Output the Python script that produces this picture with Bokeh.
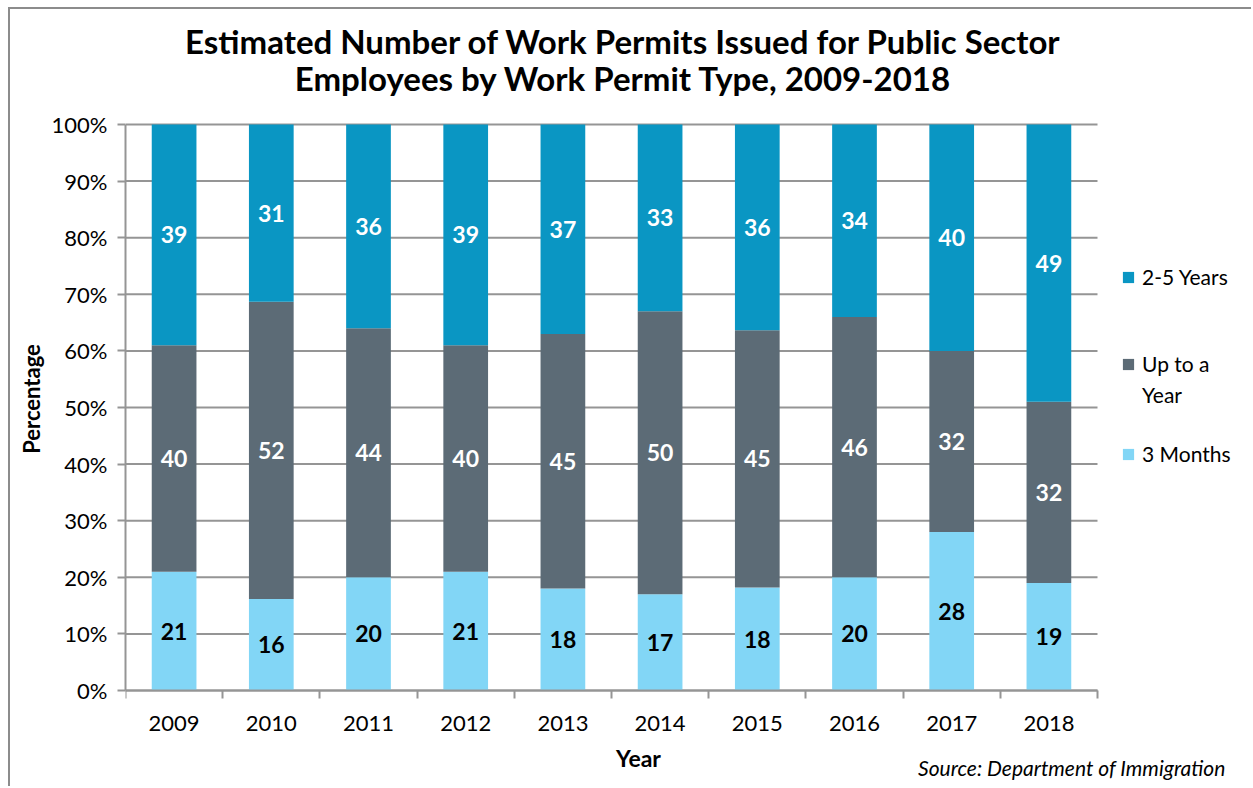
import numpy as np
from bokeh.plotting import figure
from bokeh.models import (Range1d, FixedTicker, PrintfTickFormatter, Label,
                          Legend, LegendItem, ColumnDataSource)
from bokeh.core.properties import value
from bokeh.embed import file_html
from bokeh.resources import INLINE

years = ["2009", "2010", "2011", "2012", "2013", "2014", "2015", "2016", "2017", "2018"]
three_months = [21, 16, 20, 21, 18, 17, 18, 20, 28, 19]
up_to_year = [40, 52, 44, 40, 45, 50, 45, 46, 32, 32]
two_five_years = [39, 31, 36, 39, 37, 33, 36, 34, 40, 49]
series_names = ["3 Months", "Up to a Year", "2-5 Years"]
y_ticks = [0, 10, 20, 30, 40, 50, 60, 70, 80, 90, 100]
title_lines = ["Estimated Number of Work Permits Issued for Public Sector",
               "Employees by Work Permit Type, 2009-2018"]
colors = ["#82D6F6", "#5C6B76", "#0A96C3"]
label_colors = ["#000000", "#FFFFFF", "#FFFFFF"]

FONT = "Lato"
GRID = "#959595"

# ---- layout geometry (pixels) ----
W, H = 1243, 779            # canvas size
TOP_OFF = 9                 # css margin + border above the canvas
LEFT = 115                  # left border (y axis panel)
AX_W = 972                  # width of the category area
AX_H = 566                  # height of 0..100 %
BOTTOM_GAP = 98             # from 0 % line to canvas bottom
n = len(years)
frame_w = W - LEFT
x_end = n * frame_w / AX_W
y_start = -100 * BOTTOM_GAP / AX_H
y_end = 100 * (H - BOTTOM_GAP) / AX_H


def sy(page_y):
    """page pixel row -> screen offset from the frame bottom"""
    return H + TOP_OFF - page_y


raw = np.array([three_months, up_to_year, two_five_years], dtype=float)
shares = raw / raw.sum(axis=0) * 100.0
xs = np.arange(n) + 0.5

p = figure(width=W, height=H, output_backend="svg", toolbar_location=None,
           x_range=Range1d(0, x_end), y_range=Range1d(y_start, y_end),
           min_border_left=LEFT, min_border_right=0, min_border_top=0,
           min_border_bottom=0)
p.outline_line_color = None
p.styles = {"margin-left": "8px", "margin-top": "7px",
            "border-left": "2px solid #8c8c8c", "border-top": "2px solid #8c8c8c"}

# gridlines (only across the category area)
p.xgrid.visible = False
p.ygrid.visible = False
p.segment(x0=[0] * len(y_ticks), x1=[n] * len(y_ticks), y0=y_ticks, y1=y_ticks,
          line_color=GRID, line_width=2, level="underlay")

src = ColumnDataSource(dict(x=xs, s0=shares[0], s1=shares[1], s2=shares[2]))
renderers = p.vbar_stack(["s0", "s1", "s2"], x="x", width=0.46, source=src,
                         color=colors, line_color=None)
blank = p.vbar(x=[], top=[], width=0.1, fill_alpha=0, line_alpha=0)

# segment labels
bottoms = np.vstack([np.zeros(n), np.cumsum(shares, axis=0)[:-1]])
lx, ly, lt, lc = [], [], [], []
for k in range(3):
    for i in range(n):
        lx.append(xs[i])
        ly.append(bottoms[k][i] + shares[k][i] / 2)
        lt.append(str(int(raw[k][i])))
        lc.append(label_colors[k])
p.text(x=lx, y=ly, text=lt, text_color=lc, text_font=value(FONT),
       text_font_style="bold", text_font_size="23px", text_align="center",
       text_baseline="middle")

# y axis
yax = p.yaxis[0]
yax.bounds = (0, 100)
yax.ticker = FixedTicker(ticks=y_ticks)
yax.formatter = PrintfTickFormatter(format="%d%%")
yax.axis_line_color = GRID
yax.axis_line_width = 2
yax.major_tick_line_color = GRID
yax.major_tick_line_width = 2
yax.major_tick_out = 8
yax.major_tick_in = 0
yax.minor_tick_line_color = None
yax.major_label_text_font = FONT
yax.major_label_text_font_size = "22px"
yax.major_label_text_color = "#000000"
yax.major_label_standoff = 10
yax.axis_label = "Percentage"
yax.axis_label_text_font = FONT
yax.axis_label_text_font_style = "bold"
yax.axis_label_text_font_size = "22px"
yax.axis_label_text_color = "#000000"
yax.axis_label_standoff = 4

# x axis, fixed at 0 %
xax = p.xaxis[0]
xax.fixed_location = 0
xax.bounds = (0, n)
xax.ticker = FixedTicker(ticks=list(xs), minor_ticks=list(range(0, n + 1)))
xax.major_label_overrides = {float(x): y for x, y in zip(xs, years)}
xax.axis_line_color = GRID
xax.axis_line_width = 2
xax.major_tick_line_color = None
xax.major_tick_out = 0
xax.major_tick_in = 0
xax.minor_tick_line_color = GRID
xax.minor_tick_line_width = 2
xax.minor_tick_out = 8
xax.minor_tick_in = 0
xax.major_label_text_font = FONT
xax.major_label_text_font_size = "22px"
xax.major_label_text_color = "#000000"
xax.major_label_standoff = 17


# texts, positioned in screen pixels from the frame's bottom-left corner
def add_text(x, page_y, text, size, style="normal", align="left"):
    p.add_layout(Label(x=x, y=sy(page_y), x_units="screen", y_units="screen",
                       text=text, text_font=FONT, text_font_style=style,
                       text_font_size=size, text_align=align,
                       text_baseline="middle", text_color="#000000"))


add_text(498, 40, title_lines[0], "33px", "bold", "center")
add_text(498, 77, title_lines[1], "33px", "bold", "center")
add_text(513, 757, "Year", "23px", "bold", "center")
add_text(1100, 767, "Source: Department of Immigration", "21px", "italic", "right")

legend_entries = [("2-5 Years", renderers[2]), (" ", blank), (" ", blank),
                  ("Up to a", renderers[1]), ("Year", blank), (" ", blank),
                  ("3 Months", renderers[0])]
items = [LegendItem(label=t, renderers=[r]) for t, r in legend_entries]
legend = Legend(items=items, location=(996, sy(466)), glyph_width=14, glyph_height=14,
                label_standoff=7, padding=0, margin=0, spacing=6,
                border_line_color=None, background_fill_alpha=0,
                label_text_font=FONT, label_text_font_size="21px",
                label_height=22, label_width=20, label_text_color="#000000")
p.add_layout(legend, "center")

open("out.html", "w").write(file_html(p, INLINE))
